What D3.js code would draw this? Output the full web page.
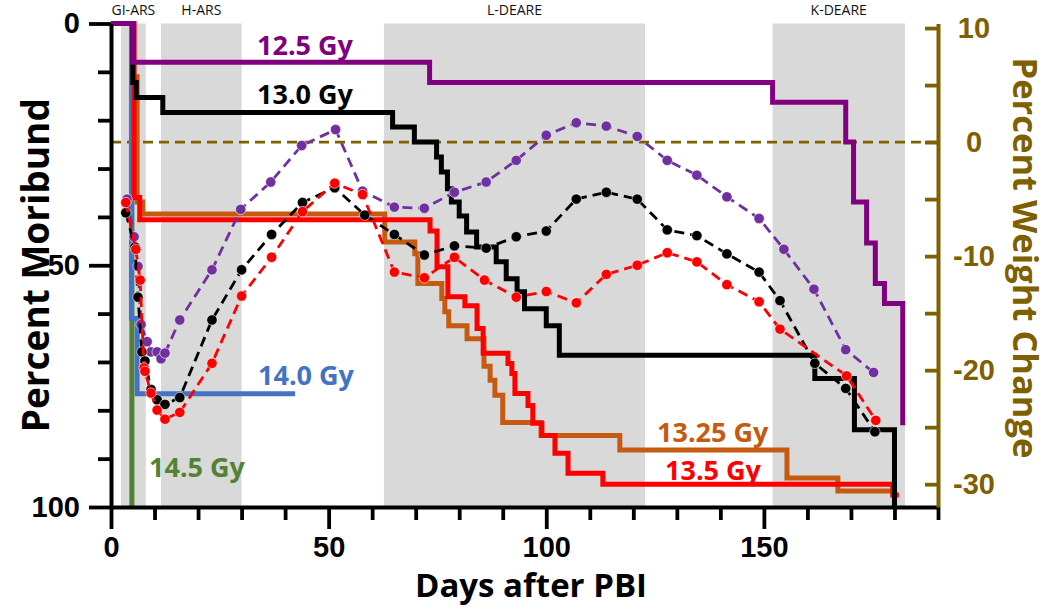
<!DOCTYPE html>
<html>
<head>
<meta charset="utf-8">
<script src="https://cdn.jsdelivr.net/npm/d3@7"></script>
<style>
  body { margin: 0; background: #fff; }
  svg { display: block; font-family: 'Open Sans', sans-serif; }
</style>
</head>
<body>
<div id="chart"></div>
<script>
// shaded phases (days after PBI)
const phaseNames = ["GI-ARS", "H-ARS", "L-DEARE", "K-DEARE"]
const phaseStart = [2.3, 11.5, 62.7, 152]
const phaseEnd = [8, 30, 122.7, 182.4]

// percent moribund, step curves: [day, percent] from that day on
const doses = ["12.5 Gy", "13.0 Gy", "13.25 Gy", "13.5 Gy", "14.0 Gy", "14.5 Gy"]
const mor125 = [[0, 0], [5, 8], [73.2, 12.2], [152, 16.3], [168.8, 24.5], [170.6, 36.9], [173.6, 45.4], [175.6, 53.8], [177.7, 57.9], [181.9, 83.1]]
const mor130 = [[0, 0], [5, 12.2], [5.8, 15.3], [11.9, 18.4], [64.7, 21.4], [69.7, 24.5], [74.8, 27.6], [75.9, 30.7], [77.3, 34.2], [78.2, 36.9], [80, 39.8], [81.7, 43.1], [84, 46.2], [88.5, 49.3], [90.8, 52.8], [93.3, 55.5], [95, 59], [100, 62.5], [103, 68.6], [161.7, 73.4], [170.8, 84], [180, 100]]
const mor1325 = [[0, 0], [5.2, 11], [6, 36.9], [7.3, 39.4], [62.9, 45.2], [69.8, 47.6], [70.5, 53.8], [76, 56.9], [76.7, 59.6], [77.6, 62.5], [81.8, 65.2], [85.7, 70.9], [87.1, 73.8], [88.2, 76.9], [90, 82.5], [98.8, 85.2], [116.9, 88.2], [155.3, 94], [167, 96.7]]
const mor135 = [[0, 0], [5.3, 36], [6.6, 40.6], [73.3, 42.9], [74.9, 50.3], [77.4, 56.5], [81.3, 58.4], [84.1, 63.1], [85.5, 68.2], [91.2, 70.3], [92.1, 72.4], [92.8, 76.5], [95.8, 79], [96.9, 82.7], [99, 85.2], [102, 88.9], [105, 93], [113, 95.3], [179.6, 97.5]]
const mor140 = [[0, 0], [4.7, 61], [6, 76.6]]
const mor145 = [[0, 0], [4.8, 100]]
const morEnd = [181.9, 180, 179.6, 181, 42.3, 4.8]

// percent weight change
const wtDays125 = [3.7, 5.3, 6.2, 6.9, 8.3, 9.2, 10.6, 11.5, 12.4, 15.8, 23.2, 29.8, 36.7, 43.8, 51.6, 57.8, 65.1, 72, 78.9, 86.2, 93.1, 100, 106.9, 113.8, 120.9, 127.8, 134.6, 141.5, 148.9, 154.6, 161.5, 168.8, 175.2]
const wt125 = [-5.0, -8.3, -10.9, -16.0, -17.5, -18.4, -18.4, -19.0, -18.5, -15.6, -11.2, -5.9, -3.5, -0.3, 1.1, -4.3, -5.7, -5.8, -4.4, -3.5, -1.6, 0.6, 1.7, 1.4, 0.5, -1.6, -2.9, -4.8, -6.7, -9.4, -12.9, -18.2, -20.2]
const wtDays130 = [3.4, 5.5, 6.2, 7.1, 7.8, 9.2, 10.6, 12.4, 15.8, 23.2, 30, 36.9, 44, 51.4, 58.3, 65.1, 72, 78.9, 86.2, 93.1, 100, 106.9, 113.8, 120.9, 127.8, 134.6, 141.5, 148.9, 153.7, 161.7, 168.8, 175.5]
const wt130 = [-6.2, -9.2, -13.6, -18.4, -19.2, -21.7, -22.6, -23.0, -22.4, -15.6, -11.2, -8.1, -5.3, -4.0, -6.4, -8.1, -9.9, -9.1, -9.3, -8.3, -7.8, -5.0, -4.4, -5.0, -7.7, -8.2, -9.8, -11.4, -13.9, -19.4, -21.6, -25.4]
const wtDays135 = [3.4, 5.7, 6.7, 7.6, 7.8, 9.2, 10.6, 12.4, 15.8, 23.2, 30, 36.9, 44, 51.4, 57.8, 65.1, 72, 78.9, 85.8, 93.1, 100, 106.9, 113.8, 120.9, 127.8, 134.6, 141.5, 148.9, 153.7, 169, 175.7]
const wt135 = [-5.3, -9.4, -12.1, -19.8, -20.1, -22.0, -23.5, -24.3, -23.7, -19.4, -13.5, -10.1, -6.1, -3.6, -4.6, -11.4, -11.9, -10.1, -12.1, -13.6, -13.1, -14.1, -11.6, -10.8, -9.7, -10.5, -12.5, -14.0, -16.4, -20.5, -24.4]

const xTicks = d3.range(0, 191, 10)
const xLabels = [0, 50, 100, 150]
const yTicks = d3.range(0, 101, 10)
const yLabels = [0, 50, 100]
const y2Ticks = d3.range(-30, 11, 5)
const y2Labels = [-30, -20, -10, 0, 10]

document.addEventListener("DOMContentLoaded", () => {
    let width = 1050,
        height = 609
    let axisBrown = "#7F6000"

    let svg = d3.select("#chart").append("svg")
        .attr("width", width)
        .attr("height", height)

    let x = d3.scaleLinear().domain([0, 190]).range([111, 938])
    let y = d3.scaleLinear().domain([0, 100]).range([23.5, 507])
    let y2 = d3.scaleLinear().domain([-32, 10.4]).range([507, 23.5])

    // phase bands
    svg.selectAll(".band")
        .data(phaseNames)
        .enter().append("rect")
        .attr("x", (d, i) => x(phaseStart[i]))
        .attr("width", (d, i) => x(phaseEnd[i]) - x(phaseStart[i]))
        .attr("y", y(0))
        .attr("height", y(100) - y(0))
        .attr("fill", "#D9D9D9")

    svg.selectAll(".phase")
        .data(phaseNames)
        .enter().append("text")
        .attr("x", (d, i) => x((phaseStart[i] + phaseEnd[i]) / 2))
        .attr("y", 15)
        .attr("text-anchor", "middle")
        .attr("font-size", 14)
        .attr("fill", "#111")
        .text(d => d)

    // zero weight change line
    svg.append("line")
        .attr("x1", x(0)).attr("x2", x(190))
        .attr("y1", y2(0)).attr("y2", y2(0))
        .attr("stroke", axisBrown)
        .attr("stroke-width", 2.6)
        .attr("stroke-dasharray", "10,6")

    // step curves, drawn so the early drops overlap like the original
    let morSeries = [mor125, mor130, mor1325, mor135, mor140, mor145]
    let morColors = ["#800080", "#000000", "#C55A11", "#FF0000", "#4472C4", "#548235"]
    let drawOrder = [5, 4, 2, 3, 1, 0]

    let stepLine = d3.line()
        .x(d => x(d[0]))
        .y(d => y(d[1]))
        .curve(d3.curveStepAfter)

    drawOrder.forEach(i => {
        let pts = morSeries[i].slice()
        pts.push([morEnd[i], pts[pts.length - 1][1]])
        svg.append("path")
            .datum(pts)
            .attr("d", stepLine)
            .attr("fill", "none")
            .attr("stroke", morColors[i])
            .attr("stroke-width", 5)
            .attr("stroke-linejoin", "miter")
    })

    // weight change curves
    let wtSeries = [
        { days: wtDays125, vals: wt125, color: "#7030A0" },
        { days: wtDays130, vals: wt130, color: "#000000" },
        { days: wtDays135, vals: wt135, color: "#FF0000" }
    ]

    let wtLine = d3.line()
        .x(d => x(d[0]))
        .y(d => y2(d[1]))

    wtSeries.forEach(s => {
        let pts = s.days.map((d, i) => [d, s.vals[i]])
        svg.append("path")
            .datum(pts)
            .attr("d", wtLine)
            .attr("fill", "none")
            .attr("stroke", s.color)
            .attr("stroke-width", 2.8)
            .attr("stroke-dasharray", "10,6")

        svg.append("g").selectAll("circle")
            .data(pts)
            .enter().append("circle")
            .attr("cx", d => x(d[0]))
            .attr("cy", d => y2(d[1]))
            .attr("r", 5.2)
            .attr("fill", s.color)
            .attr("stroke", "#fff")
            .attr("stroke-width", 0.6)
    })

    // dose labels
    let labelPos = [[257, 55], [257, 104], [657, 442], [665, 480], [258, 385], [149, 477]]
    doses.forEach((d, i) => {
        svg.append("text")
            .attr("x", labelPos[i][0])
            .attr("y", labelPos[i][1])
            .attr("font-size", 27)
            .attr("font-weight", "bold")
            .attr("fill", morColors[i])
            .text(d)
    })

    // left axis
    let yAxis = svg.append("g")
        .attr("transform", `translate(${x(0)},0)`)
        .call(d3.axisLeft(y).tickValues(yTicks).tickSizeOuter(0)
            .tickFormat(d => yLabels.includes(d) ? d : ""))
    yAxis.select(".domain").attr("stroke-width", 4)
    yAxis.selectAll(".tick line")
        .attr("x2", d => d % 50 === 0 ? -22 : -13)
        .attr("stroke-width", 3.8)
    yAxis.selectAll(".tick text")
        .attr("x", -31)
        .attr("font-size", 29)
        .attr("font-weight", "bold")
        .attr("fill", "#000")

    // bottom axis
    let xAxis = svg.append("g")
        .attr("transform", `translate(0,${y(100)})`)
        .call(d3.axisBottom(x).tickValues(xTicks).tickSizeOuter(0)
            .tickFormat(d => xLabels.includes(d) ? d : ""))
    xAxis.select(".domain").attr("stroke-width", 4)
    xAxis.selectAll(".tick line")
        .attr("y2", d => d % 50 === 0 ? 22 : 13)
        .attr("stroke-width", 3.8)
    xAxis.selectAll(".tick text")
        .attr("y", 29)
        .attr("font-size", 29)
        .attr("font-weight", "bold")
        .attr("fill", "#000")

    // right axis, ticks point inward
    let y2Axis = svg.append("g")
        .attr("transform", `translate(${x(190)},0)`)
        .call(d3.axisRight(y2).tickValues(y2Ticks).tickSize(-13).tickSizeOuter(0)
            .tickPadding(36)
            .tickFormat(d => y2Labels.includes(d) ? String(d) : ""))
    y2Axis.select(".domain").attr("stroke", axisBrown).attr("stroke-width", 4)
    y2Axis.selectAll(".tick line").attr("stroke", axisBrown).attr("stroke-width", 3.8)
    y2Axis.selectAll(".tick text")
        .attr("text-anchor", "middle")
        .attr("font-size", 29)
        .attr("font-weight", "bold")
        .attr("fill", axisBrown)

    // axis titles
    svg.append("text")
        .attr("transform", `translate(34,${(y(0) + y(100)) / 2}) rotate(-90)`)
        .attr("text-anchor", "middle")
        .attr("dominant-baseline", "central")
        .attr("font-size", 37)
        .attr("font-weight", "bold")
        .text("Percent Moribund")

    svg.append("text")
        .attr("x", 531)
        .attr("y", 597)
        .attr("text-anchor", "middle")
        .attr("font-size", 33)
        .attr("font-weight", "bold")
        .text("Days after PBI")

    svg.append("text")
        .attr("transform", `translate(1026,258) rotate(90)`)
        .attr("text-anchor", "middle")
        .attr("dominant-baseline", "central")
        .attr("font-size", 34.5)
        .attr("font-weight", "bold")
        .attr("fill", axisBrown)
        .text("Percent Weight Change")
})
</script>
</body>
</html>
